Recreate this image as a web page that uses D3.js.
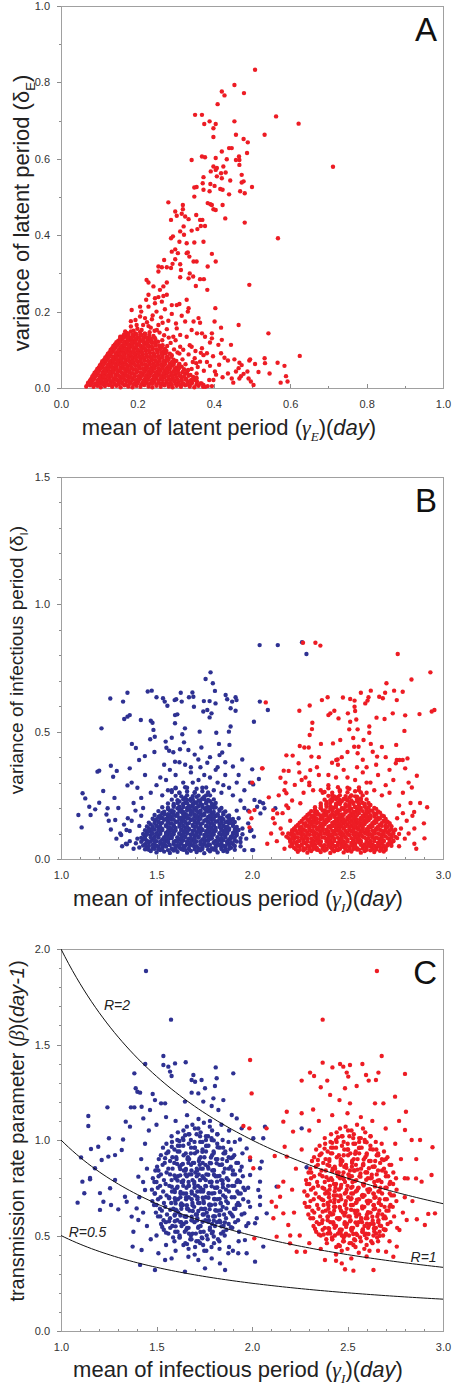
<!DOCTYPE html>
<html><head><meta charset="utf-8">
<script src="https://cdn.jsdelivr.net/npm/d3@7"></script>
<style>body{margin:0;background:#fff}svg{display:block}text{font-family:Arial,"Liberation Sans",sans-serif}</style>
</head><body><svg id="c" width="453" height="1385"></svg>
<script>
// ---------- tick labels ----------
const ticksA = [0, 0.2, 0.4, 0.6, 0.8, 1.0];
const ticksInfX = [1.0, 1.5, 2.0, 2.5, 3.0];
const ticksBy = [0, 0.5, 1.0, 1.5];
const ticksCy = [0, 0.5, 1.0, 1.5, 2.0];
const rLevels = [2, 1, 0.5];
const rLabels = [{r:2, t:"R=2", x:1.225, y:1.68}, {r:1, t:"R=1", x:2.83, y:0.36}, {r:0.5, t:"R=0.5", x:1.04, y:0.49}];

// ---------- Panel A : latent period (mean, variance) ----------
const latentTail = [[.508,.833],[.454,.793],[.479,.772],[.421,.776],[.428,.766],[.41,.743],[.351,.715],[.369,.715],[.389,.698],[.375,.691],[.405,.691],[.399,.68],[.399,.657],[.454,.698],[.563,.711],[.622,.692],[.533,.663],[.458,.663],[.478,.652],[.489,.643],[.487,.615],[.44,.628],[.447,.628],[.421,.619],[.342,.597],[.369,.606],[.377,.604],[.405,.602],[.434,.599],[.466,.606],[.467,.597],[.467,.584],[.458,.597],[.408,.576],[.399,.58],[.405,.571],[.425,.58],[.419,.562],[.431,.564],[.408,.554],[.392,.567],[.373,.552],[.371,.536],[.391,.534],[.421,.549],[.443,.543],[.473,.558],[.478,.541],[.473,.538],[.349,.525],[.355,.526],[.373,.519],[.389,.515],[.402,.529],[.417,.521],[.423,.519],[.44,.507],[.469,.515],[.481,.51],[.5,.526],[.349,.501],[.384,.484],[.391,.481],[.395,.479],[.423,.479],[.399,.468],[.405,.466],[.43,.444],[.481,.433],[.568,.392],[.712,.579],[.281,.486],[.319,.479],[.319,.468],[.299,.462],[.288,.44],[.303,.451],[.316,.456],[.325,.449],[.334,.442],[.354,.453],[.364,.44],[.37,.44],[.366,.424],[.377,.424],[.357,.416],[.342,.412],[.321,.423],[.312,.41],[.322,.401],[.293,.397],[.288,.392],[.31,.383],[.329,.379],[.349,.381],[.373,.383],[.299,.363],[.29,.357],[.306,.353],[.329,.353],[.336,.344],[.332,.355],[.299,.337],[.27,.335],[.292,.325],[.312,.324],[.347,.331],[.355,.331],[.384,.318],[.405,.331],[.395,.351],[.255,.318],[.264,.316],[.277,.316],[.288,.314],[.255,.305],[.314,.309],[.337,.3],[.346,.292],[.334,.287],[.312,.29],[.364,.285],[.374,.285],[.383,.257],[.353,.267],[.224,.283],[.229,.276],[.242,.266],[.268,.266],[.277,.276],[.259,.257],[.277,.244],[.268,.241],[.493,.27],[.255,.238],[.246,.235],[.229,.244],[.223,.231],[.207,.213],[.185,.204],[.229,.213],[.246,.222],[.264,.226],[.272,.206],[.29,.217],[.303,.217],[.31,.22],[.329,.231],[.334,.209],[.332,.2],[.404,.209],[.29,.194],[.316,.189],[.207,.187],[.22,.183],[.238,.18],[.266,.171],[.281,.176],[.301,.169],[.325,.174],[.347,.174],[.36,.183],[.364,.171],[.402,.174],[.465,.165],[.419,.158],[.543,.143],[.183,.161],[.198,.165],[.211,.152],[.229,.162],[.251,.152],[.277,.154],[.303,.156],[.342,.152],[.356,.143],[.369,.143],[.377,.134],[.395,.143],[.395,.13],[.329,.134],[.312,.139],[.294,.134],[.421,.126],[.412,.113],[.445,.113],[.168,.148],[.155,.134],[.176,.139],[.39,.119],[.369,.104],[.342,.108],[.382,.091],[.373,.086],[.419,.091],[.428,.079],[.437,.072],[.454,.075],[.493,.072],[.495,.075],[.508,.063],[.517,.042],[.533,.078],[.534,.065],[.546,.038],[.567,.066],[.585,.058],[.625,.084],[.589,.031],[.593,.017],[.575,.014],[.478,.037],[.471,.031],[.467,.025],[.458,.043],[.447,.025],[.437,.038],[.423,.028],[.451,.014],[.491,.025],[.497,.017],[.504,.008],[.488,.043],[.403,.043],[.399,.021],[.388,.021],[.373,.008],[.395,.005],[.378,.003],[.354,.025],[.355,.038],[.364,.069],[.354,.065],[.465,.052],[.467,.066],[.473,.06],[.31,.09],[.318,.075],[.326,.062],[.334,.088],[.342,.05],[.35,.078],[.358,.055],[.366,.092],[.374,.045],[.382,.068],[.39,.058],[.398,.083],[.406,.035],[.414,.061],[.32,.1],[.337,.112],[.352,.097],[.345,.068],[.33,.045],[.312,.108],[.3,.125],[.287,.118],[.278,.11],[.296,.101],[.305,.093],[.265,.125],[.27,.138],[.258,.145],[.282,.132],[.245,.15],[.235,.158],[.2,.155],[.19,.15],[.215,.165],[.225,.172],[.255,.165],[.24,.19],[.262,.185],[.25,.2],[.21,.2],[.195,.178],[.183,.175]];
const latentCore = [[.066,.004],[.076,.007],[.085,.003],[.095,.006],[.104,.002],[.115,.005],[.125,.008],[.134,.003],[.145,.006],[.156,.002],[.166,.007],[.176,.004],[.187,.002],[.197,.006],[.208,.003],[.218,.008],[.229,.004],[.239,.002],[.25,.006],[.261,.003],[.271,.007],[.282,.004],[.292,.002],[.303,.006],[.314,.003],[.325,.007],[.337,.004],[.349,.002],[.36,.006],[.372,.003],[.384,.005],
[.071,.014],[.081,.017],[.09,.012],[.1,.016],[.11,.013],[.12,.018],[.13,.014],[.14,.011],[.151,.016],[.161,.013],[.171,.018],[.181,.014],[.192,.012],[.202,.017],[.213,.013],[.223,.016],[.234,.012],[.244,.017],[.255,.014],[.266,.011],[.276,.016],[.287,.013],[.297,.018],[.308,.014],[.319,.011],[.331,.016],[.343,.013],[.356,.017],[.368,.012],
[.079,.024],[.088,.027],[.098,.022],[.108,.026],[.117,.023],[.127,.028],[.137,.024],[.147,.021],[.157,.026],[.167,.023],[.177,.028],[.188,.024],[.198,.021],[.208,.026],[.219,.023],[.229,.027],[.24,.022],[.25,.026],[.261,.024],[.271,.028],[.282,.023],[.293,.026],[.304,.022],[.316,.027],[.328,.024],[.341,.021],[.355,.026],
[.085,.034],[.095,.037],[.104,.032],[.114,.036],[.124,.033],[.133,.038],[.143,.034],[.153,.031],[.163,.036],[.173,.033],[.183,.038],[.193,.034],[.204,.031],[.214,.036],[.224,.033],[.235,.037],[.245,.032],[.256,.036],[.267,.034],[.277,.038],[.288,.033],[.3,.036],[.312,.032],[.325,.037],[.339,.034],
[.092,.044],[.101,.047],[.11,.042],[.12,.046],[.13,.043],[.139,.048],[.149,.044],[.159,.041],[.169,.046],[.179,.043],[.189,.048],[.199,.044],[.209,.041],[.22,.046],[.23,.043],[.24,.047],[.251,.042],[.261,.046],[.272,.044],[.283,.048],[.294,.043],[.306,.046],[.319,.042],[.333,.047],
[.099,.054],[.108,.057],[.117,.052],[.127,.056],[.136,.053],[.146,.058],[.156,.054],[.165,.051],[.175,.056],[.185,.053],[.195,.058],[.205,.054],[.215,.051],[.225,.056],[.236,.053],[.246,.057],[.256,.052],[.267,.056],[.278,.054],[.29,.058],[.302,.053],[.316,.056],
[.106,.064],[.115,.067],[.124,.062],[.134,.066],[.143,.063],[.153,.068],[.162,.064],[.172,.061],[.182,.066],[.191,.063],[.201,.068],[.211,.064],[.221,.061],[.231,.066],[.241,.063],[.252,.067],[.262,.062],[.273,.066],[.285,.064],[.297,.068],[.31,.063],
[.113,.074],[.122,.077],[.131,.072],[.141,.076],[.15,.073],[.16,.078],[.169,.074],[.179,.071],[.188,.076],[.198,.073],[.208,.078],[.218,.074],[.228,.071],[.238,.076],[.248,.073],[.259,.077],[.27,.072],[.282,.076],[.295,.074],
[.12,.084],[.129,.087],[.138,.082],[.148,.086],[.157,.083],[.166,.088],[.176,.084],[.185,.081],[.195,.086],[.205,.083],[.214,.088],[.224,.084],[.234,.081],[.244,.086],[.255,.083],[.266,.087],[.278,.082],[.29,.086],
[.127,.094],[.136,.097],[.145,.092],[.155,.096],[.164,.093],[.174,.098],[.183,.094],[.193,.091],[.202,.096],[.212,.093],[.222,.098],[.232,.094],[.242,.091],[.253,.096],[.264,.093],[.276,.097],
[.134,.104],[.143,.107],[.153,.102],[.162,.106],[.172,.103],[.181,.108],[.191,.104],[.2,.101],[.21,.106],[.22,.103],[.23,.108],[.24,.104],[.251,.101],[.262,.106],[.272,.103],
[.141,.114],[.151,.117],[.16,.112],[.17,.116],[.179,.113],[.189,.118],[.198,.114],[.208,.111],[.218,.116],[.228,.113],[.238,.118],[.248,.114],[.259,.111],
[.15,.124],[.16,.127],[.169,.122],[.179,.126],[.188,.123],[.198,.128],[.207,.124],[.217,.121],[.227,.126],[.237,.123],[.247,.128],
[.16,.134],[.17,.137],[.18,.132],[.19,.136],[.2,.133],[.21,.138],[.22,.134],[.231,.131],[.242,.136],
[.172,.144],[.183,.148],[.195,.143],[.207,.147],[.219,.142],[.232,.146]];
const latentCore2 = [[.07,.01],[.08,.012],[.09,.009],[.1,.011],[.11,.01],[.12,.012],[.13,.009],[.14,.011],[.15,.01],[.16,.012],[.17,.009],[.18,.011],[.19,.01],[.2,.012],[.21,.009],[.22,.011],[.23,.01],[.24,.012],[.25,.009],[.26,.011],[.27,.01],[.28,.012],[.29,.009],[.3,.011],[.31,.01],[.32,.012],[.33,.009],[.34,.011],[.355,.01],[.365,.012],
[.076,.02],[.086,.022],[.096,.019],[.106,.021],[.116,.02],[.126,.022],[.136,.019],[.146,.021],[.156,.02],[.166,.022],[.176,.019],[.186,.021],[.196,.02],[.206,.022],[.216,.019],[.226,.021],[.236,.02],[.246,.022],[.256,.019],[.266,.021],[.276,.02],[.286,.022],[.296,.019],[.306,.021],[.316,.02],[.326,.022],[.338,.019],[.35,.021],
[.082,.03],[.092,.032],[.102,.029],[.112,.031],[.122,.03],[.132,.032],[.142,.029],[.152,.031],[.162,.03],[.172,.032],[.182,.029],[.192,.031],[.202,.03],[.212,.032],[.222,.029],[.232,.031],[.242,.03],[.252,.032],[.262,.029],[.272,.031],[.282,.03],[.292,.032],[.302,.029],[.312,.031],[.322,.03],[.334,.032],[.346,.029],
[.088,.04],[.098,.042],[.108,.039],[.118,.041],[.128,.04],[.138,.042],[.148,.039],[.158,.041],[.168,.04],[.178,.042],[.188,.039],[.198,.041],[.208,.04],[.218,.042],[.228,.039],[.238,.041],[.248,.04],[.258,.042],[.268,.039],[.278,.041],[.288,.04],[.298,.042],[.308,.039],[.318,.041],[.33,.04],
[.095,.05],[.105,.052],[.115,.049],[.125,.051],[.135,.05],[.145,.052],[.155,.049],[.165,.051],[.175,.05],[.185,.052],[.195,.049],[.205,.051],[.215,.05],[.225,.052],[.235,.049],[.245,.051],[.255,.05],[.265,.052],[.275,.049],[.285,.051],[.297,.05],[.309,.052],[.322,.049],
[.102,.06],[.112,.062],[.122,.059],[.132,.061],[.142,.06],[.152,.062],[.162,.059],[.172,.061],[.182,.06],[.192,.062],[.202,.059],[.212,.061],[.222,.06],[.232,.062],[.242,.059],[.252,.061],[.262,.06],[.272,.062],[.283,.059],[.295,.061],[.308,.06],
[.108,.07],[.118,.072],[.128,.069],[.138,.071],[.148,.07],[.158,.072],[.168,.069],[.178,.071],[.188,.07],[.198,.072],[.208,.069],[.218,.071],[.228,.07],[.238,.072],[.248,.069],[.258,.071],[.268,.07],[.279,.072],[.291,.069],[.302,.071],
[.116,.08],[.126,.082],[.136,.079],[.146,.081],[.156,.08],[.166,.082],[.176,.079],[.186,.081],[.196,.08],[.206,.082],[.216,.079],[.226,.081],[.236,.08],[.246,.082],[.256,.079],[.266,.081],[.277,.08],[.289,.082],
[.123,.09],[.133,.092],[.143,.089],[.153,.091],[.163,.09],[.173,.092],[.183,.089],[.193,.091],[.203,.09],[.213,.092],[.223,.089],[.233,.091],[.243,.09],[.253,.092],[.263,.089],[.274,.091],[.285,.09],
[.13,.1],[.14,.102],[.15,.099],[.16,.101],[.17,.1],[.18,.102],[.19,.099],[.2,.101],[.21,.1],[.22,.102],[.23,.099],[.24,.101],[.25,.1],[.26,.102],[.27,.099],
[.137,.11],[.147,.112],[.157,.109],[.167,.111],[.177,.11],[.187,.112],[.197,.109],[.207,.111],[.217,.11],[.227,.112],[.237,.109],[.247,.111],[.257,.11],[.266,.112],
[.145,.12],[.155,.122],[.165,.119],[.175,.121],[.185,.12],[.195,.122],[.205,.119],[.215,.121],[.225,.12],[.235,.122],[.245,.119],[.254,.121],
[.155,.13],[.165,.132],[.175,.129],[.185,.131],[.195,.13],[.205,.132],[.215,.129],[.225,.131],[.235,.13],[.245,.132],
[.165,.14],[.176,.142],[.187,.139],[.198,.141],[.209,.14],[.22,.142],[.231,.139]];

// ---------- Panel B : infectious period (mean, variance) ----------
const infBlueSparse = [[1.783,.733],[1.757,.707],[1.795,.69],[1.258,.63],[1.348,.653],[1.325,.618],[1.454,.658],[1.475,.661],[1.5,.635],[1.534,.631],[1.543,.618],[1.557,.602],[1.595,.624],[1.603,.627],[1.627,.653],[1.632,.618],[1.67,.635],[1.688,.654],[1.693,.637],[1.696,.598],[1.748,.62],[1.778,.62],[1.809,.611],[1.806,.66],[1.862,.644],[1.87,.627],[1.896,.618],[1.914,.635],[1.919,.624],[1.888,.592],[1.914,.582],[1.348,.559],[1.36,.565],[1.331,.55],[1.212,.513],[1.418,.546],[1.47,.543],[1.479,.535],[1.484,.507],[1.597,.565],[1.609,.568],[1.597,.533],[1.649,.513],[1.635,.49],[1.726,.5],[1.745,.579],[1.766,.585],[1.778,.556],[1.788,.572],[1.813,.496],[1.888,.52],[1.879,.5],[2.01,.539],[1.2,.221],[1.261,.366],[1.2,.347],[1.191,.343],[1.292,.346],[1.273,.323],[1.221,.267],[1.371,.452],[1.392,.436],[1.467,.47],[1.491,.48],[1.439,.404],[1.489,.42],[1.409,.389],[1.36,.356],[1.348,.289],[1.548,.461],[1.58,.476],[1.552,.437],[1.566,.425],[1.588,.419],[1.597,.382],[1.623,.431],[1.644,.458],[1.667,.428],[1.735,.438],[1.719,.391],[1.766,.378],[1.827,.452],[1.844,.418],[1.83,.408],[1.882,.448],[1.949,.391],[1.9,.363],[1.113,.258],[1.127,.238],[1.091,.173],[1.108,.124],[1.148,.205],[1.155,.173],[1.179,.195],[1.244,.199],[1.238,.175],[1.284,.153],[1.261,.116],[1.315,.094],[1.345,.058],[1.343,.114],[1.392,.062],[1.447,.039],[2.001,.035],[1.997,.114],[2.04,.84],[2.135,.84],[2.262,.851],[2.285,.805],[2.041,.618],[2.083,.585],[2.001,.352],[2.036,.314],[2.006,.293],[2.013,.232],[2.041,.225],[2.058,.219],[2.027,.205],[2.065,.199],[2.044,.179],[2.122,.199],[2.01,.088],[2.006,.035],[1.62,.38],[1.7,.41],[1.78,.4],[1.86,.38],[1.54,.37],[1.68,.36],[1.75,.33],[1.82,.36],[1.93,.33],[1.44,.33],[1.4,.28],[1.42,.24],[1.3,.2],[1.28,.24],[1.25,.15],[1.32,.05],[1.29,.08],[1.37,.3],[1.96,.27],[1.98,.19],[1.99,.3],
[1.34,.06],[1.36,.11],[1.37,.15],[1.38,.04],[1.39,.19],[1.40,.08],[1.41,.13],[1.42,.17],[1.35,.16],[1.38,.22],[1.41,.045],[1.43,.2],[1.31,.1],[1.33,.135],[1.36,.07],[1.93,.16],[1.94,.05],[1.95,.12],[1.96,.2],[1.97,.08],[1.98,.14],[1.94,.23],[1.99,.11],[1.96,.035],[1.92,.19],
[1.47,.26],[1.5,.29],[1.53,.25],[1.55,.31],[1.58,.27],[1.6,.33],[1.62,.26],[1.64,.3],[1.66,.28],[1.68,.34],[1.7,.26],[1.72,.31],[1.74,.28],[1.76,.25],[1.78,.32],[1.8,.27],[1.82,.3],[1.84,.26],[1.86,.33],[1.88,.28],[1.9,.25],[1.92,.3],[1.57,.35],[1.65,.37],[1.73,.36],[1.81,.35],[1.85,.29],[1.69,.3],[1.52,.32],[1.6,.28]];
const infBlueCore = [[1.47,.031],[1.50,.026],[1.52,.035],[1.54,.029],[1.57,.024],[1.59,.033],[1.61,.028],[1.64,.036],[1.66,.025],[1.68,.032],[1.71,.027],[1.73,.034],[1.75,.023],[1.78,.03],[1.80,.037],[1.82,.026],[1.85,.031],[1.87,.028],
[1.45,.046],[1.48,.041],[1.51,.049],[1.53,.043],[1.55,.05],[1.58,.04],[1.60,.047],[1.62,.044],[1.65,.051],[1.67,.039],[1.70,.048],[1.72,.042],[1.74,.046],[1.77,.052],[1.79,.041],[1.81,.047],[1.84,.043],[1.86,.05],[1.89,.044],
[1.44,.058],[1.46,.064],[1.49,.055],[1.52,.062],[1.54,.057],[1.56,.066],[1.59,.059],[1.61,.054],[1.63,.063],[1.66,.06],[1.68,.056],[1.70,.065],[1.73,.058],[1.75,.061],[1.77,.055],[1.80,.064],[1.82,.06],[1.84,.057],[1.87,.063],[1.90,.059],
[1.43,.076],[1.45,.072],[1.48,.079],[1.50,.07],[1.53,.077],[1.55,.074],[1.57,.081],[1.60,.071],[1.62,.078],[1.64,.073],[1.67,.08],[1.69,.075],[1.71,.069],[1.74,.077],[1.76,.073],[1.78,.079],[1.81,.071],[1.83,.076],[1.85,.074],[1.88,.078],[1.91,.072],
[1.44,.089],[1.47,.094],[1.49,.087],[1.51,.092],[1.54,.086],[1.56,.095],[1.58,.09],[1.61,.085],[1.63,.093],[1.65,.088],[1.68,.096],[1.70,.091],[1.72,.087],[1.75,.094],[1.77,.089],[1.79,.092],[1.82,.086],[1.84,.095],[1.86,.09],[1.89,.088],[1.92,.093],
[1.45,.104],[1.47,.109],[1.50,.101],[1.52,.107],[1.55,.103],[1.57,.11],[1.59,.105],[1.62,.1],[1.64,.108],[1.66,.104],[1.69,.111],[1.71,.102],[1.73,.106],[1.76,.109],[1.78,.103],[1.80,.107],[1.83,.101],[1.85,.11],[1.87,.105],[1.90,.102],[1.92,.108],
[1.46,.121],[1.49,.116],[1.51,.124],[1.53,.118],[1.56,.125],[1.58,.117],[1.60,.122],[1.63,.115],[1.65,.123],[1.67,.119],[1.70,.126],[1.72,.12],[1.74,.116],[1.77,.124],[1.79,.118],[1.81,.122],[1.84,.117],[1.86,.125],[1.88,.12],[1.91,.118],
[1.47,.136],[1.50,.131],[1.52,.139],[1.55,.133],[1.57,.14],[1.59,.132],[1.62,.137],[1.64,.13],[1.66,.138],[1.69,.134],[1.71,.141],[1.73,.135],[1.76,.131],[1.78,.139],[1.80,.133],[1.83,.137],[1.85,.132],[1.88,.14],[1.90,.135],
[1.49,.151],[1.51,.146],[1.54,.154],[1.56,.148],[1.58,.155],[1.61,.147],[1.63,.152],[1.65,.145],[1.68,.153],[1.70,.149],[1.72,.156],[1.75,.15],[1.77,.146],[1.79,.154],[1.82,.148],[1.84,.152],[1.87,.147],[1.89,.151],
[1.51,.166],[1.53,.161],[1.56,.169],[1.58,.163],[1.60,.17],[1.63,.162],[1.65,.167],[1.67,.16],[1.70,.168],[1.72,.164],[1.74,.171],[1.77,.165],[1.79,.161],[1.81,.169],[1.84,.163],[1.87,.167],
[1.53,.181],[1.56,.176],[1.58,.184],[1.61,.178],[1.63,.185],[1.65,.177],[1.68,.182],[1.70,.175],[1.72,.183],[1.75,.179],[1.77,.186],[1.79,.18],[1.82,.176],[1.85,.183],
[1.56,.196],[1.58,.191],[1.61,.199],[1.63,.193],[1.66,.2],[1.68,.192],[1.70,.197],[1.73,.19],[1.75,.198],[1.78,.194],[1.80,.201],[1.83,.195],
[1.59,.211],[1.62,.206],[1.64,.214],[1.67,.208],[1.69,.215],[1.72,.207],[1.74,.212],[1.77,.205],[1.80,.213],
[1.62,.226],[1.65,.221],[1.68,.229],[1.70,.223],[1.73,.23],[1.76,.222],[1.78,.227],
[1.65,.241],[1.68,.237],[1.71,.244],[1.74,.238]];
const infBlueCore2 = [[1.44,.038],[1.46,.036],[1.49,.04],[1.51,.037],[1.53,.039],[1.56,.035],[1.58,.04],[1.60,.037],[1.63,.039],[1.65,.036],[1.67,.04],[1.70,.038],[1.72,.035],[1.74,.039],[1.77,.037],[1.79,.041],[1.81,.036],[1.84,.039],[1.86,.037],[1.88,.04],[1.91,.036],
[1.43,.053],[1.46,.051],[1.48,.055],[1.50,.052],[1.53,.054],[1.55,.05],[1.57,.055],[1.60,.052],[1.62,.054],[1.64,.051],[1.67,.055],[1.69,.053],[1.71,.05],[1.74,.054],[1.76,.052],[1.78,.056],[1.81,.051],[1.83,.054],[1.85,.052],[1.88,.055],[1.91,.051],
[1.42,.068],[1.45,.066],[1.47,.07],[1.49,.067],[1.52,.069],[1.54,.065],[1.56,.07],[1.59,.067],[1.61,.069],[1.63,.066],[1.66,.07],[1.68,.068],[1.70,.065],[1.73,.069],[1.75,.067],[1.77,.071],[1.80,.066],[1.82,.069],[1.84,.067],[1.87,.07],[1.89,.066],[1.92,.069],[1.94,.067],
[1.42,.083],[1.44,.081],[1.47,.085],[1.49,.082],[1.51,.084],[1.54,.08],[1.56,.085],[1.58,.082],[1.61,.084],[1.63,.081],[1.65,.085],[1.68,.083],[1.70,.08],[1.72,.084],[1.75,.082],[1.77,.086],[1.79,.081],[1.82,.084],[1.84,.082],[1.86,.085],[1.89,.081],[1.91,.084],[1.94,.082],
[1.43,.098],[1.45,.096],[1.48,.1],[1.50,.097],[1.52,.099],[1.55,.095],[1.57,.1],[1.59,.097],[1.62,.099],[1.64,.096],[1.66,.1],[1.69,.098],[1.71,.095],[1.73,.099],[1.76,.097],[1.78,.101],[1.80,.096],[1.83,.099],[1.85,.097],[1.87,.1],[1.90,.096],[1.92,.099],[1.95,.097],
[1.44,.113],[1.46,.111],[1.48,.115],[1.51,.112],[1.53,.114],[1.56,.11],[1.58,.115],[1.60,.112],[1.63,.114],[1.65,.111],[1.67,.115],[1.70,.113],[1.72,.11],[1.74,.114],[1.77,.112],[1.79,.116],[1.81,.111],[1.84,.114],[1.86,.112],[1.88,.115],[1.91,.111],[1.93,.114],
[1.45,.128],[1.48,.126],[1.50,.13],[1.52,.127],[1.55,.129],[1.57,.125],[1.59,.13],[1.62,.127],[1.64,.129],[1.66,.126],[1.69,.13],[1.71,.128],[1.73,.125],[1.76,.129],[1.78,.127],[1.80,.131],[1.83,.126],[1.85,.129],[1.87,.127],[1.90,.13],[1.92,.126],
[1.46,.143],[1.49,.141],[1.51,.145],[1.53,.142],[1.56,.144],[1.58,.14],[1.60,.145],[1.63,.142],[1.65,.144],[1.67,.141],[1.70,.145],[1.72,.143],[1.74,.14],[1.77,.144],[1.79,.142],[1.81,.146],[1.84,.141],[1.86,.144],[1.89,.142],[1.91,.145],
[1.48,.158],[1.50,.156],[1.52,.16],[1.55,.157],[1.57,.159],[1.59,.155],[1.62,.16],[1.64,.157],[1.66,.159],[1.69,.156],[1.71,.16],[1.73,.158],[1.76,.155],[1.78,.159],[1.80,.157],[1.83,.161],[1.85,.156],[1.88,.159],[1.90,.157],
[1.49,.173],[1.52,.171],[1.54,.175],[1.57,.172],[1.59,.174],[1.61,.17],[1.64,.175],[1.66,.172],[1.68,.174],[1.71,.171],[1.73,.175],[1.75,.173],[1.78,.17],[1.80,.174],[1.82,.172],[1.85,.176],[1.88,.171],
[1.51,.188],[1.54,.186],[1.57,.19],[1.59,.187],[1.62,.189],[1.64,.185],[1.66,.19],[1.69,.187],[1.71,.189],[1.73,.186],[1.76,.19],[1.78,.188],[1.80,.185],[1.83,.189],[1.86,.187],
[1.53,.203],[1.56,.201],[1.59,.205],[1.62,.202],[1.64,.204],[1.67,.2],[1.69,.205],[1.71,.202],[1.74,.204],[1.76,.201],[1.79,.205],[1.81,.203],[1.84,.2],
[1.56,.218],[1.59,.216],[1.61,.22],[1.64,.217],[1.66,.219],[1.69,.215],[1.71,.22],[1.73,.217],[1.76,.219],[1.79,.216],[1.81,.22],
[1.58,.233],[1.61,.231],[1.64,.235],[1.66,.232],[1.69,.234],[1.72,.23],[1.75,.235],[1.77,.232],[1.80,.234],
[1.60,.248],[1.63,.246],[1.66,.25],[1.69,.247],[1.72,.249],[1.75,.245],[1.78,.25],
[1.58,.263],[1.62,.26],[1.66,.265],[1.7,.262],[1.74,.266],[1.77,.261],[1.56,.27],
[1.6,.278],[1.65,.282],[1.71,.276],[1.76,.281]];
const infRedSparse = [[2.267,.849],[2.332,.849],[2.358,.838],[2.763,.805],[2.934,.733],[2.835,.705],[2.704,.69],[2.622,.661],[2.57,.653],[2.697,.653],[2.744,.661],[2.789,.657],[2.61,.635],[2.666,.637],[2.685,.631],[2.758,.624],[2.396,.635],[2.476,.634],[2.514,.628],[2.537,.622],[2.366,.624],[2.302,.603],[2.248,.582],[2.072,.615],[2.431,.582],[2.537,.598],[2.54,.581],[2.593,.611],[2.605,.622],[2.652,.555],[2.694,.55],[2.737,.572],[2.802,.564],[2.877,.569],[2.941,.579],[2.955,.585],[2.41,.572],[2.453,.552],[2.502,.572],[2.514,.539],[2.546,.548],[2.553,.509],[2.509,.509],[2.614,.52],[2.614,.496],[2.798,.503],[2.316,.535],[2.314,.51],[2.302,.487],[2.4,.565],[2.361,.452],[2.424,.454],[2.462,.467],[2.53,.475],[2.535,.441],[2.558,.441],[2.553,.415],[2.584,.467],[2.622,.452],[2.632,.421],[2.655,.402],[2.755,.448],[2.25,.444],[2.274,.438],[2.297,.438],[2.311,.402],[2.18,.407],[2.213,.406],[2.244,.376],[2.055,.356],[2.166,.347],[2.192,.346],[2.149,.319],[2.248,.34],[2.305,.349],[2.448,.391],[2.419,.378],[2.441,.389],[2.758,.389],[2.772,.389],[2.789,.389],[2.814,.395],[2.753,.376],[2.802,.356],[2.863,.327],[2.837,.281],[2.917,.203],[2.849,.185],[2.903,.081],[2.088,.242],[2.111,.192],[2.119,.14],[2.132,.179],[2.18,.258],[2.175,.3],[2.224,.291],[2.18,.088],[2.222,.12],[2.236,.055],[2.253,.219],[2.001,.3],[1.987,.186],[2.013,.192],[1.997,.16],[1.987,.124],[2.053,.356],[2.35,.4],[2.5,.42],[2.58,.39],[2.68,.44],[2.72,.35],[2.4,.33],[2.3,.29],[2.26,.31],[2.7,.4],[2.6,.36],[2.47,.4],[2.85,.12],[2.88,.22],[2.82,.3],[2.9,.14],[2.1,.1],[2.08,.06],[2.86,.04],
[2.13,.07],[2.15,.12],[2.16,.18],[2.17,.04],[2.18,.21],[2.19,.1],[2.2,.15],[2.14,.25],[2.17,.27],[2.2,.05],[2.16,.1],[2.19,.2],[2.11,.16],[2.21,.23],[2.77,.05],[2.78,.12],[2.79,.18],[2.8,.08],[2.81,.15],[2.83,.22],[2.77,.21],[2.82,.1],[2.85,.06],[2.84,.17],[2.79,.26],[2.76,.16],
[2.27,.26],[2.3,.3],[2.32,.27],[2.35,.33],[2.37,.26],[2.4,.29],[2.42,.25],[2.44,.32],[2.46,.27],[2.48,.35],[2.5,.28],[2.52,.25],[2.54,.31],[2.56,.27],[2.58,.34],[2.6,.26],[2.62,.3],[2.64,.27],[2.66,.33],[2.68,.25],[2.7,.29],[2.72,.26],[2.74,.31],[2.34,.36],[2.45,.37],[2.55,.36],[2.65,.37],[2.28,.32],[2.5,.32],[2.6,.3]];
const infRedCore = [[2.24,.028],[2.27,.034],[2.29,.025],[2.31,.031],[2.34,.036],[2.36,.027],[2.38,.033],[2.41,.024],[2.43,.03],[2.45,.035],[2.48,.026],[2.50,.032],[2.52,.029],[2.55,.037],[2.57,.025],[2.59,.031],[2.62,.034],[2.64,.027],[2.67,.032],[2.69,.029],
[2.22,.044],[2.25,.049],[2.27,.042],[2.30,.047],[2.32,.051],[2.34,.043],[2.37,.048],[2.39,.04],[2.41,.046],[2.44,.05],[2.46,.041],[2.48,.047],[2.51,.044],[2.53,.052],[2.55,.042],[2.58,.048],[2.60,.045],[2.62,.05],[2.65,.043],[2.67,.047],[2.70,.044],
[2.21,.059],[2.23,.063],[2.26,.056],[2.28,.062],[2.31,.066],[2.33,.057],[2.35,.061],[2.38,.054],[2.40,.064],[2.42,.058],[2.45,.065],[2.47,.06],[2.49,.055],[2.52,.063],[2.54,.059],[2.56,.066],[2.59,.057],[2.61,.062],[2.63,.056],[2.66,.064],[2.68,.06],[2.71,.058],[2.73,.063],
[2.20,.074],[2.22,.079],[2.25,.071],[2.27,.077],[2.29,.081],[2.32,.072],[2.34,.076],[2.36,.07],[2.39,.078],[2.41,.073],[2.43,.08],[2.46,.075],[2.48,.069],[2.50,.077],[2.53,.074],[2.55,.081],[2.57,.072],[2.60,.078],[2.62,.071],[2.64,.079],[2.67,.075],[2.69,.073],[2.72,.077],[2.74,.072],
[2.21,.091],[2.23,.086],[2.26,.094],[2.28,.088],[2.30,.095],[2.33,.087],[2.35,.092],[2.37,.085],[2.40,.093],[2.42,.089],[2.44,.096],[2.47,.09],[2.49,.086],[2.51,.094],[2.54,.088],[2.56,.092],[2.58,.087],[2.61,.095],[2.63,.09],[2.65,.085],[2.68,.093],[2.70,.089],[2.73,.092],[2.75,.087],
[2.21,.106],[2.24,.101],[2.26,.109],[2.29,.103],[2.31,.11],[2.33,.102],[2.36,.107],[2.38,.1],[2.40,.108],[2.43,.104],[2.45,.111],[2.47,.105],[2.50,.101],[2.52,.109],[2.54,.103],[2.57,.107],[2.59,.102],[2.61,.11],[2.64,.105],[2.66,.1],[2.69,.108],[2.71,.104],[2.74,.106],
[2.22,.119],[2.25,.124],[2.27,.116],[2.30,.122],[2.32,.126],[2.34,.117],[2.37,.121],[2.39,.115],[2.41,.123],[2.44,.118],[2.46,.125],[2.48,.12],[2.51,.116],[2.53,.124],[2.55,.119],[2.58,.122],[2.60,.117],[2.62,.125],[2.65,.12],[2.67,.115],[2.70,.123],[2.73,.118],
[2.24,.134],[2.27,.139],[2.29,.131],[2.31,.137],[2.34,.141],[2.36,.132],[2.38,.136],[2.41,.13],[2.43,.138],[2.45,.133],[2.48,.14],[2.50,.135],[2.52,.131],[2.55,.139],[2.57,.134],[2.59,.137],[2.62,.132],[2.64,.14],[2.67,.135],[2.70,.131],[2.72,.138],
[2.26,.149],[2.29,.154],[2.31,.146],[2.33,.152],[2.36,.156],[2.38,.147],[2.40,.151],[2.43,.145],[2.45,.153],[2.47,.148],[2.50,.155],[2.52,.15],[2.54,.146],[2.57,.154],[2.59,.149],[2.61,.152],[2.64,.147],[2.66,.155],[2.69,.15],[2.71,.146],
[2.28,.164],[2.31,.169],[2.33,.161],[2.36,.167],[2.38,.171],[2.40,.162],[2.43,.166],[2.45,.16],[2.47,.168],[2.50,.163],[2.52,.17],[2.54,.165],[2.57,.161],[2.59,.169],[2.61,.164],[2.64,.167],[2.66,.162],[2.69,.168],
[2.30,.179],[2.33,.184],[2.35,.176],[2.38,.182],[2.40,.186],[2.42,.177],[2.45,.181],[2.47,.175],[2.49,.183],[2.52,.178],[2.54,.185],[2.56,.18],[2.59,.176],[2.61,.184],[2.64,.179],[2.67,.182],
[2.33,.194],[2.36,.199],[2.38,.191],[2.41,.197],[2.43,.201],[2.45,.192],[2.48,.196],[2.50,.19],[2.52,.198],[2.55,.193],[2.57,.2],[2.60,.195],[2.62,.191],[2.65,.197],
[2.36,.209],[2.39,.214],[2.41,.206],[2.44,.212],[2.46,.216],[2.49,.207],[2.51,.211],[2.54,.205],[2.56,.213],[2.59,.208],[2.62,.212],
[2.39,.224],[2.42,.229],[2.45,.221],[2.47,.227],[2.50,.231],[2.53,.222],[2.55,.226],[2.58,.22],
[2.42,.239],[2.45,.244],[2.48,.236],[2.51,.242],[2.54,.246],[2.57,.238]];
const infRedCore2 = [[2.23,.038],[2.25,.036],[2.28,.04],[2.30,.037],[2.32,.039],[2.35,.035],[2.37,.04],[2.39,.037],[2.42,.039],[2.44,.036],[2.46,.04],[2.49,.038],[2.51,.035],[2.53,.039],[2.56,.037],[2.58,.041],[2.60,.036],[2.63,.039],[2.65,.037],[2.68,.04],[2.70,.036],
[2.21,.053],[2.24,.051],[2.26,.055],[2.29,.052],[2.31,.054],[2.33,.05],[2.36,.055],[2.38,.052],[2.40,.054],[2.43,.051],[2.45,.055],[2.47,.053],[2.50,.05],[2.52,.054],[2.54,.052],[2.57,.056],[2.59,.051],[2.61,.054],[2.64,.052],[2.66,.055],[2.69,.051],[2.71,.054],[2.73,.052],
[2.20,.068],[2.22,.066],[2.24,.07],[2.27,.067],[2.29,.069],[2.32,.065],[2.34,.07],[2.36,.067],[2.39,.069],[2.41,.066],[2.43,.07],[2.46,.068],[2.48,.065],[2.50,.069],[2.53,.067],[2.55,.071],[2.57,.066],[2.60,.069],[2.62,.067],[2.64,.07],[2.67,.066],[2.69,.069],[2.72,.067],[2.74,.07],
[2.19,.083],[2.21,.081],[2.24,.085],[2.26,.082],[2.28,.084],[2.31,.08],[2.33,.085],[2.35,.082],[2.38,.084],[2.40,.081],[2.42,.085],[2.45,.083],[2.47,.08],[2.49,.084],[2.52,.082],[2.54,.086],[2.56,.081],[2.59,.084],[2.61,.082],[2.63,.085],[2.66,.081],[2.68,.084],[2.71,.082],[2.73,.085],[2.76,.082],
[2.20,.098],[2.22,.096],[2.25,.1],[2.27,.097],[2.29,.099],[2.32,.095],[2.34,.1],[2.36,.097],[2.39,.099],[2.41,.096],[2.43,.1],[2.46,.098],[2.48,.095],[2.50,.099],[2.53,.097],[2.55,.101],[2.57,.096],[2.60,.099],[2.62,.097],[2.64,.1],[2.67,.096],[2.69,.099],[2.72,.097],[2.74,.1],[2.77,.098],
[2.21,.113],[2.23,.111],[2.25,.115],[2.28,.112],[2.30,.114],[2.32,.11],[2.35,.115],[2.37,.112],[2.39,.114],[2.42,.111],[2.44,.115],[2.46,.113],[2.49,.11],[2.51,.114],[2.53,.112],[2.56,.116],[2.58,.111],[2.60,.114],[2.63,.112],[2.65,.115],[2.68,.111],[2.70,.114],[2.72,.112],[2.75,.115],
[2.23,.128],[2.26,.126],[2.28,.13],[2.30,.127],[2.33,.129],[2.35,.125],[2.37,.13],[2.40,.127],[2.42,.129],[2.44,.126],[2.47,.13],[2.49,.128],[2.51,.125],[2.54,.129],[2.56,.127],[2.58,.131],[2.61,.126],[2.63,.129],[2.66,.127],[2.68,.13],[2.71,.126],[2.73,.129],
[2.25,.143],[2.28,.141],[2.30,.145],[2.32,.142],[2.35,.144],[2.37,.14],[2.39,.145],[2.42,.142],[2.44,.144],[2.46,.141],[2.49,.145],[2.51,.143],[2.53,.14],[2.56,.144],[2.58,.142],[2.60,.146],[2.63,.141],[2.65,.144],[2.68,.142],[2.70,.145],[2.72,.141],
[2.27,.158],[2.30,.156],[2.32,.16],[2.34,.157],[2.37,.159],[2.39,.155],[2.41,.16],[2.44,.157],[2.46,.159],[2.48,.156],[2.51,.16],[2.53,.158],[2.55,.155],[2.58,.159],[2.60,.157],[2.62,.161],[2.65,.156],[2.67,.159],[2.70,.157],
[2.29,.173],[2.32,.171],[2.34,.175],[2.37,.172],[2.39,.174],[2.41,.17],[2.44,.175],[2.46,.172],[2.48,.174],[2.51,.171],[2.53,.175],[2.55,.173],[2.58,.17],[2.60,.174],[2.62,.172],[2.65,.176],[2.68,.171],
[2.31,.188],[2.34,.186],[2.37,.19],[2.39,.187],[2.42,.189],[2.44,.185],[2.46,.19],[2.49,.187],[2.51,.189],[2.53,.186],[2.56,.19],[2.58,.188],[2.60,.185],[2.63,.189],[2.66,.187],
[2.33,.203],[2.36,.201],[2.39,.205],[2.42,.202],[2.44,.204],[2.47,.2],[2.49,.205],[2.51,.202],[2.54,.204],[2.56,.201],[2.59,.205],[2.61,.203],[2.64,.2],
[2.36,.218],[2.39,.216],[2.41,.22],[2.44,.217],[2.46,.219],[2.49,.215],[2.51,.22],[2.53,.217],[2.56,.219],[2.59,.216],[2.61,.22],
[2.38,.233],[2.41,.231],[2.44,.235],[2.46,.232],[2.49,.234],[2.52,.23],[2.55,.235],[2.57,.232],[2.60,.234],
[2.40,.248],[2.43,.246],[2.46,.25],[2.49,.247],[2.52,.249],[2.55,.245],[2.58,.25],
[2.38,.263],[2.42,.26],[2.46,.265],[2.5,.262],[2.54,.266],[2.57,.261],[2.36,.27],
[2.4,.278],[2.45,.282],[2.51,.276],[2.56,.281]];

// ---------- Panel C : infectious period vs transmission rate ----------
const betaBlueSparse = [[1.445,1.885],[1.576,1.63],[1.441,1.398],[1.384,1.349],[1.391,1.271],[1.4,1.253],[1.143,1.126],[1.243,1.171],[1.366,1.171],[1.384,1.171],[1.422,1.174],[1.536,1.44],[1.536,1.393],[1.653,1.407],[1.597,1.401],[1.571,1.358],[1.579,1.335],[1.562,1.384],[1.693,1.34],[1.684,1.314],[1.702,1.305],[1.736,1.314],[1.815,1.323],[1.81,1.38],[1.902,1.349],[1.754,1.271],[1.806,1.283],[1.719,1.244],[1.684,1.248],[1.414,1.248],[1.48,1.241],[1.524,1.192],[1.545,1.192],[1.431,1.113],[1.466,1.157],[1.492,1.209],[1.649,1.201],[1.745,1.201],[1.789,1.178],[1.798,1.218],[1.85,1.209],[1.824,1.157],[1.894,1.131],[1.92,1.113],[1.143,1.073],[1.251,1.009],[1.195,.965],[1.157,.953],[1.339,1.096],[1.361,1.07],[1.325,1.003],[1.283,.921],[1.105,.909],[1.178,.852],[1.152,.794],[1.112,.782],[1.122,.721],[1.087,.672],[1.204,.634],[1.222,.677],[1.257,.747],[1.262,.66],[1.3,.637],[1.344,.677],[1.37,.599],[1.396,.642],[1.405,.581],[1.379,.52],[1.375,.442],[1.422,.424],[1.414,.346],[1.492,.319],[1.649,.311],[1.754,.328],[1.859,.319],[1.51,.407],[1.545,.372],[1.579,.38],[1.667,.389],[1.719,.372],[1.789,.38],[1.832,.354],[1.876,.407],[1.928,.407],[1.972,.407],[1.963,.476],[1.932,.52],[1.981,.564],[1.96,.616],[1.981,.677],[1.963,.738],[1.99,.817],[1.946,.86],[1.972,.956],[1.937,1.003],[1.946,1.061],[1.405,.808],[1.44,.738],[1.335,.703],[1.248,.913],[1.318,.948],[1.213,.895],[1.283,.791],[1.152,.801],[1.204,.722],[2.007,1.009],[2.059,1.009],[2.26,1.061],[2.068,1.07],[1.99,.895],[2.051,.887],[2.042,.852],[2.042,.782],[2.033,.738],[2.042,.703],[2.042,.66],[2.077,.616],[2.016,.564],[2.025,.59],[2.059,.442],[2.016,.363],[2.129,.756],[2.286,.857],[1.42,.9],[1.44,.98],[1.46,1.05],[1.43,.62],[1.45,.55],[1.47,.48],[1.41,.7],[1.43,.78],[1.45,.85],[1.5,1.08],[1.55,1.12],[1.6,1.1],[1.66,1.13],[1.72,1.11],[1.78,1.1],[1.84,1.08],[1.88,1.05],[1.91,.99],[1.95,.93],[1.98,.75],[1.99,.65],[1.97,.55],[1.93,.47],[1.88,.44],[1.83,.43],[1.55,.45],[1.6,.42],[1.5,.5],[1.9,.42],[1.7,.4],[1.75,.42]];
const betaBlueCore = [[1.641,.45],[1.668,.43],[1.702,.44],[1.729,.46],[1.761,.42],[1.788,.44],
[1.594,.47],[1.622,.49],[1.651,.46],[1.683,.48],[1.709,.47],[1.744,.45],[1.768,.48],[1.801,.46],[1.829,.47],
[1.562,.51],[1.587,.49],[1.621,.5],[1.648,.52],[1.677,.48],[1.706,.51],[1.737,.49],[1.763,.5],[1.795,.52],[1.822,.48],[1.857,.5],
[1.538,.53],[1.572,.54],[1.598,.52],[1.631,.55],[1.656,.53],[1.689,.51],[1.718,.54],[1.747,.52],[1.779,.53],[1.806,.55],[1.838,.51],[1.866,.53],[1.897,.54],
[1.524,.56],[1.549,.57],[1.583,.55],[1.609,.58],[1.642,.56],[1.668,.54],[1.699,.57],[1.731,.55],[1.756,.58],[1.791,.56],[1.817,.57],[1.851,.55],[1.878,.56],[1.912,.57],
[1.508,.6],[1.537,.58],[1.571,.59],[1.596,.61],[1.629,.57],[1.657,.6],[1.688,.58],[1.714,.59],[1.748,.61],[1.774,.58],[1.806,.6],[1.835,.57],[1.864,.59],[1.893,.61],[1.927,.58],
[1.497,.62],[1.528,.63],[1.555,.61],[1.588,.64],[1.614,.62],[1.647,.6],[1.673,.63],[1.706,.61],[1.734,.64],[1.763,.62],[1.797,.6],[1.823,.63],[1.854,.61],[1.884,.62],[1.913,.64],[1.946,.61],
[1.487,.66],[1.518,.64],[1.546,.65],[1.577,.67],[1.606,.63],[1.638,.66],[1.664,.64],[1.697,.65],[1.726,.67],[1.754,.64],[1.786,.66],[1.813,.63],[1.847,.65],[1.874,.67],[1.906,.64],[1.935,.66],
[1.478,.68],[1.508,.69],[1.539,.67],[1.566,.7],[1.598,.68],[1.627,.66],[1.655,.69],[1.688,.67],[1.715,.7],[1.746,.68],[1.776,.66],[1.803,.69],[1.836,.67],[1.865,.68],[1.894,.7],[1.927,.67],[1.954,.69],
[1.492,.72],[1.521,.7],[1.553,.71],[1.581,.73],[1.612,.69],[1.641,.72],[1.669,.7],[1.702,.71],[1.731,.73],[1.758,.7],[1.791,.72],[1.818,.69],[1.849,.71],[1.879,.73],[1.908,.7],[1.941,.72],
[1.476,.74],[1.507,.75],[1.535,.73],[1.567,.76],[1.595,.74],[1.626,.72],[1.657,.75],[1.684,.73],[1.717,.76],[1.745,.74],[1.774,.72],[1.806,.75],[1.833,.73],[1.864,.74],[1.896,.76],[1.923,.73],[1.955,.75],
[1.489,.78],[1.519,.76],[1.548,.77],[1.579,.79],[1.608,.75],[1.638,.78],[1.667,.76],[1.698,.77],[1.728,.79],[1.756,.76],[1.788,.78],[1.816,.75],[1.847,.77],[1.876,.79],[1.907,.76],[1.937,.78],
[1.481,.8],[1.511,.81],[1.539,.79],[1.571,.82],[1.599,.8],[1.631,.78],[1.659,.81],[1.689,.79],[1.721,.82],[1.748,.8],[1.779,.78],[1.809,.81],[1.838,.79],[1.868,.8],[1.899,.82],[1.926,.79],[1.952,.81],
[1.494,.84],[1.523,.82],[1.553,.83],[1.584,.85],[1.612,.81],[1.643,.84],[1.671,.82],[1.703,.83],[1.732,.85],[1.761,.82],[1.792,.84],[1.819,.81],[1.851,.83],[1.879,.85],[1.911,.82],[1.938,.84],
[1.503,.86],[1.532,.87],[1.562,.85],[1.593,.88],[1.621,.86],[1.652,.84],[1.681,.87],[1.711,.85],[1.742,.88],[1.769,.86],[1.801,.84],[1.829,.87],[1.858,.85],[1.889,.86],[1.918,.88],
[1.512,.9],[1.543,.88],[1.571,.89],[1.603,.91],[1.631,.87],[1.662,.9],[1.69,.88],[1.722,.89],[1.751,.91],[1.779,.88],[1.811,.9],[1.839,.87],[1.869,.89],[1.899,.91],[1.927,.88],
[1.523,.92],[1.552,.93],[1.583,.91],[1.611,.94],[1.642,.92],[1.671,.9],[1.701,.93],[1.731,.91],[1.759,.94],[1.791,.92],[1.819,.9],[1.851,.93],[1.878,.91],[1.907,.92],
[1.534,.96],[1.562,.94],[1.594,.95],[1.622,.97],[1.653,.93],[1.681,.96],[1.713,.94],[1.741,.95],[1.772,.97],[1.799,.94],[1.831,.96],[1.859,.93],[1.889,.95],
[1.552,.98],[1.581,.99],[1.612,.97],[1.641,1.0],[1.669,.98],[1.701,.96],[1.729,.99],[1.761,.97],[1.789,1.0],[1.818,.98],[1.849,.96],[1.877,.99],
[1.579,1.02],[1.609,1.0],[1.638,1.01],[1.668,1.03],[1.699,.99],[1.728,1.02],[1.759,1.0],[1.788,1.01],[1.818,1.03],[1.846,1.0],
[1.612,1.04],[1.641,1.05],[1.672,1.03],[1.701,1.06],[1.731,1.04],[1.759,1.02],[1.791,1.05],[1.819,1.03],
[1.659,1.07],[1.688,1.08],[1.719,1.06],[1.748,1.09],[1.779,1.07],
[1.566,.575],[1.625,.57],[1.683,.58],[1.741,.572],[1.8,.578],[1.858,.568],[1.595,.605],[1.654,.598],[1.712,.61],[1.77,.6],[1.829,.607],[1.572,.635],[1.63,.64],[1.69,.628],[1.748,.638],[1.808,.632],[1.866,.642],[1.6,.668],[1.659,.658],[1.718,.67],[1.778,.662],[1.836,.668],[1.566,.695],[1.625,.7],[1.684,.69],[1.742,.698],[1.802,.692],[1.861,.7],[1.596,.728],[1.655,.72],[1.714,.73],[1.773,.722],[1.832,.728],[1.58,.755],[1.64,.76],[1.699,.75],[1.759,.758],[1.818,.752],[1.875,.76],[1.61,.788],[1.668,.78],[1.728,.79],[1.787,.782],[1.846,.788],[1.594,.815],[1.652,.82],[1.711,.81],[1.771,.818],[1.83,.812],[1.624,.848],[1.683,.84],[1.742,.85],[1.8,.842],[1.608,.875],[1.667,.88],[1.726,.87],[1.785,.878],[1.843,.872]];
const betaBlueFill = [[1.55,.515],[1.61,.52],[1.67,.51],[1.73,.518],[1.79,.512],[1.85,.52],[1.53,.545],[1.6,.548],[1.66,.54],[1.72,.546],[1.78,.541],[1.84,.548],[1.89,.543],[1.52,.6],[1.9,.6],[1.5,.66],[1.92,.66],[1.49,.72],[1.93,.72],[1.5,.78],[1.92,.78],[1.51,.84],[1.9,.84],[1.545,.905],[1.605,.9],[1.665,.91],[1.725,.902],[1.785,.908],[1.845,.9],[1.89,.905],[1.56,.935],[1.62,.94],[1.68,.93],[1.74,.938],[1.8,.932],[1.86,.94],[1.58,.965],[1.64,.97],[1.7,.96],[1.76,.968],[1.82,.962],[1.62,.995],[1.68,1.0],[1.74,.99],[1.8,.998],[1.65,1.025],[1.71,1.03],[1.77,1.02],[1.62,.49],[1.68,.5],[1.74,.485],[1.8,.495],[1.66,.455],[1.72,.47],
[1.596,.575],[1.655,.57],[1.713,.58],[1.771,.572],[1.83,.578],[1.625,.605],[1.684,.598],[1.742,.61],[1.8,.6],[1.601,.635],[1.66,.64],[1.719,.628],[1.778,.638],[1.837,.632],[1.63,.668],[1.689,.658],[1.748,.67],[1.807,.662],[1.596,.695],[1.655,.7],[1.714,.69],[1.772,.698],[1.831,.692],[1.626,.728],[1.685,.72],[1.744,.73],[1.803,.722],[1.61,.755],[1.67,.76],[1.729,.75],[1.789,.758],[1.848,.752],[1.64,.788],[1.698,.78],[1.758,.79],[1.817,.782],[1.624,.815],[1.682,.82],[1.741,.81],[1.801,.818],[1.654,.848],[1.713,.84],[1.772,.85],[1.638,.875],[1.697,.88],[1.756,.87],[1.815,.878]];
const betaRedSparse = [[2.654,1.885],[2.37,1.63],[2.679,1.44],[2.37,1.405],[2.421,1.38],[2.461,1.398],[2.478,1.384],[2.513,1.393],[2.578,1.398],[2.662,1.353],[2.801,1.346],[2.26,1.311],[2.304,1.353],[2.325,1.335],[2.394,1.311],[2.496,1.353],[2.504,1.332],[2.597,1.34],[2.611,1.311],[2.649,1.314],[2.548,1.283],[2.487,1.271],[2.36,1.276],[2.749,1.227],[2.409,1.236],[2.458,1.209],[2.513,1.192],[2.644,1.192],[2.688,1.192],[2.806,1.148],[2.182,1.148],[2.26,1.14],[2.164,1.096],[2.215,1.044],[2.171,.965],[2.119,.916],[2.076,1.061],[1.99,1.419],[1.998,1.244],[1.986,1.061],[1.955,1.073],[1.99,.909],[2.007,.852],[2.012,.485],[2.836,1.0],[2.88,1.0],[2.801,1.052],[2.945,.962],[2.94,.817],[2.859,.799],[2.888,.782],[2.815,.799],[2.958,.616],[2.905,.555],[2.923,.613],[2.863,.585],[2.81,.581],[2.772,.529],[2.758,.442],[2.74,.389],[2.702,.415],[2.636,.319],[2.531,.316],[2.487,.323],[2.47,.354],[2.382,.372],[2.44,.368],[2.278,.415],[2.199,.459],[2.234,.415],[2.129,.494],[2.112,.59],[2.103,.677],[2.126,.651],[2.147,.703],[2.164,.782],[2.182,.913],[2.138,.756],[2.19,.555],[2.164,.616],[2.25,.5],[2.22,.62],[2.21,.74],[2.23,.85],[2.26,.95],[2.3,1.05],[2.35,1.1],[2.42,1.13],[2.5,1.14],[2.57,1.12],[2.63,1.1],[2.7,1.06],[2.75,.98],[2.78,.9],[2.8,.8],[2.8,.7],[2.79,.62],[2.76,.54],[2.72,.47],[2.66,.42],[2.6,.39],[2.52,.38],[2.44,.4],[2.36,.43],[2.3,.46],[2.84,.68],[2.86,.9],[2.2,.5],[2.77,1.1],[2.32,1.16]];
const betaRedCore = [[2.441,.44],[2.47,.42],[2.5,.43],[2.531,.45],[2.559,.41],[2.588,.43],[2.615,.42],
[2.392,.46],[2.42,.48],[2.453,.45],[2.481,.47],[2.511,.46],[2.542,.44],[2.57,.47],[2.6,.45],[2.631,.46],[2.66,.47],
[2.36,.5],[2.389,.48],[2.419,.49],[2.45,.51],[2.477,.47],[2.508,.5],[2.535,.48],[2.566,.49],[2.597,.51],[2.624,.47],[2.655,.49],[2.686,.5],
[2.336,.52],[2.37,.53],[2.396,.51],[2.433,.54],[2.458,.52],[2.487,.5],[2.52,.53],[2.545,.51],[2.577,.52],[2.608,.54],[2.636,.5],[2.668,.52],[2.699,.53],
[2.322,.55],[2.351,.56],[2.381,.54],[2.411,.57],[2.44,.55],[2.47,.53],[2.497,.56],[2.529,.54],[2.558,.57],[2.589,.55],[2.619,.56],[2.649,.54],[2.676,.55],[2.71,.56],
[2.306,.59],[2.339,.57],[2.369,.58],[2.398,.6],[2.427,.56],[2.459,.59],[2.486,.57],[2.516,.58],[2.546,.6],[2.576,.57],[2.604,.59],[2.637,.56],[2.662,.58],[2.695,.6],[2.725,.57],
[2.295,.61],[2.326,.62],[2.357,.6],[2.386,.63],[2.416,.61],[2.445,.59],[2.475,.62],[2.504,.6],[2.536,.63],[2.561,.61],[2.595,.59],[2.621,.62],[2.656,.6],[2.682,.61],[2.715,.63],[2.744,.6],
[2.285,.65],[2.316,.63],[2.348,.64],[2.375,.66],[2.408,.62],[2.436,.65],[2.466,.63],[2.495,.64],[2.528,.66],[2.552,.63],[2.588,.65],[2.611,.62],[2.645,.64],[2.676,.66],[2.704,.63],[2.737,.65],
[2.276,.67],[2.306,.68],[2.341,.66],[2.364,.69],[2.396,.67],[2.429,.65],[2.453,.68],[2.486,.66],[2.517,.69],[2.544,.67],[2.578,.65],[2.601,.68],[2.638,.66],[2.663,.67],[2.696,.69],[2.725,.66],[2.756,.68],
[2.29,.71],[2.323,.69],[2.351,.7],[2.383,.72],[2.41,.68],[2.443,.71],[2.467,.69],[2.504,.7],[2.529,.72],[2.56,.69],[2.589,.71],[2.62,.68],[2.647,.7],[2.681,.72],[2.706,.69],[2.743,.71],
[2.274,.73],[2.309,.74],[2.333,.72],[2.369,.75],[2.393,.73],[2.428,.71],[2.455,.74],[2.486,.72],[2.519,.75],[2.543,.73],[2.576,.71],[2.604,.74],[2.635,.72],[2.662,.73],[2.698,.75],[2.721,.72],[2.757,.74],
[2.287,.77],[2.321,.75],[2.346,.76],[2.381,.78],[2.406,.74],[2.44,.77],[2.465,.75],[2.5,.76],[2.526,.78],[2.558,.75],[2.586,.77],[2.618,.74],[2.645,.76],[2.678,.78],[2.705,.75],[2.739,.77],
[2.283,.79],[2.309,.8],[2.341,.78],[2.369,.81],[2.401,.79],[2.429,.77],[2.461,.8],[2.487,.78],[2.523,.81],[2.546,.79],[2.581,.77],[2.607,.8],[2.64,.78],[2.666,.79],[2.701,.81],[2.724,.78],[2.754,.8],
[2.296,.83],[2.325,.81],[2.355,.82],[2.386,.84],[2.414,.8],[2.445,.83],[2.473,.81],[2.505,.82],[2.534,.84],[2.563,.81],[2.594,.83],[2.621,.8],[2.653,.82],[2.681,.84],[2.713,.81],[2.74,.83],
[2.305,.85],[2.334,.86],[2.364,.84],[2.395,.87],[2.423,.85],[2.454,.83],[2.483,.86],[2.513,.84],[2.544,.87],[2.571,.85],[2.603,.83],[2.631,.86],[2.66,.84],[2.691,.85],[2.72,.87],
[2.314,.89],[2.345,.87],[2.373,.88],[2.405,.9],[2.433,.86],[2.464,.89],[2.492,.87],[2.524,.88],[2.553,.9],[2.581,.87],[2.613,.89],[2.641,.86],[2.671,.88],[2.701,.9],[2.729,.87],
[2.325,.91],[2.354,.92],[2.385,.9],[2.413,.93],[2.444,.91],[2.473,.89],[2.503,.92],[2.533,.9],[2.561,.93],[2.593,.91],[2.621,.89],[2.653,.92],[2.68,.9],[2.709,.91],
[2.336,.95],[2.364,.93],[2.396,.94],[2.424,.96],[2.455,.92],[2.483,.95],[2.515,.93],[2.543,.94],[2.574,.96],[2.601,.93],[2.633,.95],[2.661,.92],[2.691,.94],
[2.354,.97],[2.383,.98],[2.414,.96],[2.443,.99],[2.471,.97],[2.503,.95],[2.531,.98],[2.563,.96],[2.591,.99],[2.62,.97],[2.651,.95],[2.679,.98],
[2.381,1.01],[2.411,.99],[2.44,1.0],[2.47,1.02],[2.501,.98],[2.53,1.01],[2.561,.99],[2.59,1.0],[2.62,1.02],[2.648,.99],
[2.414,1.03],[2.443,1.04],[2.474,1.02],[2.503,1.05],[2.533,1.03],[2.561,1.01],[2.593,1.04],[2.621,1.02],
[2.461,1.06],[2.49,1.07],[2.521,1.05],[2.55,1.08],[2.581,1.06],
[2.375,.505],[2.434,.5],[2.492,.51],[2.551,.502],[2.61,.508],[2.668,.498],[2.404,.535],[2.463,.53],[2.522,.54],[2.58,.532],[2.639,.538],[2.697,.528],[2.366,.565],[2.425,.57],[2.484,.56],[2.542,.568],[2.602,.562],[2.661,.57],[2.395,.598],[2.454,.59],[2.512,.6],[2.571,.592],[2.63,.598],[2.689,.59],[2.37,.625],[2.43,.63],[2.489,.62],[2.548,.628],[2.607,.622],[2.666,.63],[2.4,.658],[2.459,.65],[2.518,.66],[2.577,.652],[2.636,.658],[2.694,.65],[2.373,.685],[2.432,.69],[2.491,.68],[2.55,.688],[2.61,.682],[2.668,.69],[2.403,.718],[2.462,.71],[2.52,.72],[2.58,.712],[2.638,.718],[2.378,.745],[2.437,.75],[2.496,.74],[2.555,.748],[2.614,.742],[2.672,.75],[2.39,.805],[2.45,.81],[2.509,.8],[2.568,.808],[2.627,.802],[2.42,.838],[2.479,.83],[2.538,.84],[2.597,.832],[2.405,.865],[2.464,.87],[2.523,.86],[2.582,.868],[2.641,.862]];
const betaRedFill = [[2.35,.505],[2.41,.51],[2.47,.5],[2.53,.508],[2.59,.502],[2.65,.51],[2.33,.535],[2.4,.538],[2.46,.53],[2.52,.536],[2.58,.531],[2.64,.538],[2.69,.533],[2.32,.59],[2.7,.59],[2.3,.65],[2.72,.65],[2.29,.71],[2.73,.71],[2.3,.77],[2.72,.77],[2.31,.83],[2.7,.83],[2.345,.895],[2.405,.89],[2.465,.9],[2.525,.892],[2.585,.898],[2.645,.89],[2.69,.895],[2.36,.925],[2.42,.93],[2.48,.92],[2.54,.928],[2.6,.922],[2.66,.93],[2.38,.955],[2.44,.96],[2.5,.95],[2.56,.958],[2.62,.952],[2.42,.985],[2.48,.99],[2.54,.98],[2.6,.988],[2.45,1.015],[2.51,1.02],[2.57,1.01],[2.42,.48],[2.48,.49],[2.54,.475],[2.6,.485],[2.46,.445],[2.52,.46],
[2.405,.52],[2.464,.515],[2.522,.525],[2.58,.518],[2.64,.522],[2.434,.55],[2.493,.545],[2.551,.555],[2.61,.548],[2.669,.552],[2.396,.58],[2.455,.585],[2.513,.575],[2.572,.582],[2.632,.577],[2.425,.612],[2.484,.605],[2.542,.615],[2.601,.608],[2.66,.612],[2.4,.64],[2.46,.645],[2.519,.635],[2.578,.642],[2.637,.637],[2.43,.672],[2.489,.665],[2.548,.675],[2.607,.668],[2.665,.672],[2.403,.7],[2.462,.705],[2.521,.695],[2.58,.702],[2.64,.697],[2.433,.732],[2.492,.725],[2.55,.735],[2.61,.728],[2.668,.732],[2.408,.76],[2.467,.765],[2.526,.755],[2.585,.762],[2.644,.757],[2.42,.79],[2.48,.795],[2.539,.785],[2.598,.792],[2.657,.787],[2.45,.82],[2.509,.815],[2.568,.825],[2.627,.818],[2.435,.85],[2.494,.855],[2.553,.845],[2.612,.852],[2.465,.88],[2.524,.885],[2.583,.875]];

// ---------- drawing ----------
const RED = "#ED1C24", BLUE = "#2E3192";
const svg = d3.select("#c");
const L = 61, R = 443, H = 382;
const fmt = d3.format(".1f");

function panel(top, xDom, yDom, xTicks, yTicks, letter) {
  const x = d3.scaleLinear().domain(xDom).range([L, R]);
  const y = d3.scaleLinear().domain(yDom).range([top + H, top]);
  const g = svg.append("g");
  const minorX = d3.range(Math.round(xDom[0]*10), Math.round(xDom[1]*10)+1).map(v => v/10);
  const minorY = d3.range(Math.round(yDom[0]*10), Math.round(yDom[1]*10)+1).map(v => v/10);
  const mx = g.append("g").attr("transform", `translate(0,${top+H})`)
    .call(d3.axisBottom(x).tickValues(minorX).tickSize(-2).tickFormat(""));
  const my = g.append("g").attr("transform", `translate(${L},0)`)
    .call(d3.axisLeft(y).tickValues(minorY).tickSize(2).tickFormat(""));
  const ax = g.append("g").attr("transform", `translate(0,${top+H})`)
    .call(d3.axisBottom(x).tickValues(xTicks).tickSize(-4).tickPadding(12).tickFormat(fmt));
  const ay = g.append("g").attr("transform", `translate(${L},0)`)
    .call(d3.axisLeft(y).tickValues(yTicks).tickSize(4).tickPadding(7).tickFormat(fmt));
  [mx, my, ax, ay].forEach(a => {
    a.select(".domain").remove();
    a.selectAll("line").attr("stroke", "#8c8c8c").attr("shape-rendering", "crispEdges");
    a.selectAll("text").attr("font-size", 11).attr("fill", "#333").attr("font-family", "Arial, 'Liberation Sans', sans-serif");
  });
  g.append("rect").attr("x", L).attr("y", top).attr("width", R-L).attr("height", H)
    .attr("fill", "none").attr("stroke", "#a0a0a0").attr("stroke-width", 1).attr("shape-rendering", "crispEdges");
  svg.append("text").attr("x", 437).attr("y", top + 35).attr("text-anchor", "end")
    .attr("font-size", 33).attr("fill", "#111").text(letter);
  const pts = svg.append("g");
  return {x, y, pts, top};
}

function dots(p, data, color) {
  p.pts.append("g").selectAll("circle").data(data).join("circle")
    .attr("cx", d => p.x(d[0])).attr("cy", d => p.y(d[1])).attr("r", 2.2).attr("fill", color);
}

function title(x, y, rot, size, parts) {
  const t = svg.append("text").attr("transform", `translate(${x},${y}) rotate(${rot})`)
    .attr("text-anchor", "middle").attr("font-size", size).attr("fill", "#222");
  parts.forEach(p => {
    const s = t.append("tspan").text(p.t);
    if (p.i) s.attr("font-style", "italic");
    if (p.serif) s.attr("font-family", "'Liberation Serif','Times New Roman',serif");
    if (p.sub) s.attr("font-size", size * 0.6).attr("dy", size * 0.25);
    if (p.up) s.attr("dy", -size * 0.25);
  });
}

// Panel A
const pA = panel(6, [0, 1], [0, 1], ticksA, ticksA, "A");
dots(pA, latentCore.concat(latentCore2, latentTail), RED);
title(229, 435, 0, 22, [{t:"mean of latent period ("},{t:"γ",i:1,serif:1},{t:"E",i:1,serif:1,sub:1},{t:")(",up:1},{t:"day",i:1},{t:")"}]);
title(29, 213, -90, 22, [{t:"variance of latent period ("},{t:"δ"},{t:"E",sub:1},{t:")",up:1}]);

// Panel B
const pB = panel(477, [1, 3], [0, 1.5], ticksInfX, ticksBy, "B");
dots(pB, infBlueCore.concat(infBlueCore2, infBlueSparse), BLUE);
dots(pB, infRedCore.concat(infRedCore2, infRedSparse), RED);
title(238, 906, 0, 22, [{t:"mean of infectious period ("},{t:"γ",i:1,serif:1},{t:"I",i:1,serif:1,sub:1},{t:")(",up:1},{t:"day",i:1},{t:")"}]);
title(23, 660, -90, 19, [{t:"variance of infectious period ("},{t:"δ"},{t:"I",sub:1},{t:")",up:1}]);

// Panel C
const pC = panel(949, [1, 3], [0, 2], ticksInfX, ticksCy, "C");
dots(pC, betaBlueCore.concat(betaBlueFill, betaBlueSparse), BLUE);
dots(pC, betaRedCore.concat(betaRedFill, betaRedSparse), RED);
svg.append("clipPath").attr("id", "clipC").append("rect")
  .attr("x", L).attr("y", pC.top).attr("width", R-L).attr("height", H);
const line = d3.line().x(d => pC.x(d[0])).y(d => pC.y(d[1]));
const gx = d3.range(1, 3.0001, 0.02);
rLevels.forEach(r => {
  svg.append("path").attr("clip-path", "url(#clipC)")
    .datum(gx.map(v => [v, r / v])).attr("d", line)
    .attr("fill", "none").attr("stroke", "#111").attr("stroke-width", 1);
});
rLabels.forEach(l => {
  svg.append("text").attr("x", pC.x(l.x)).attr("y", pC.y(l.y)).attr("font-size", 14)
    .attr("font-style", "italic").attr("fill", "#222").text(l.t);
});
title(238, 1377, 0, 22, [{t:"mean of infectious period ("},{t:"γ",i:1,serif:1},{t:"I",i:1,serif:1,sub:1},{t:")(",up:1},{t:"day",i:1},{t:")"}]);
title(24, 1131, -90, 20, [{t:"transmission rate parameter ("},{t:"β",i:1,serif:1},{t:")("},{t:"day-1",i:1},{t:")"}]);
</script></body></html>
